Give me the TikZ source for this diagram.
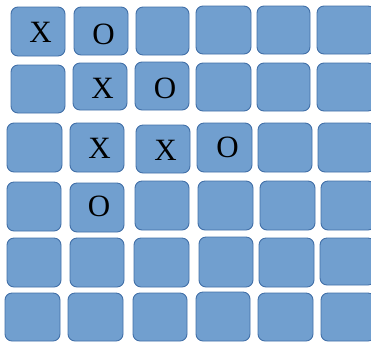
\documentclass[tikz,border=0pt]{standalone}
\usepackage{fontspec}
\setmainfont{Liberation Serif}
\definecolor{cellfill}{RGB}{113,159,207}
\definecolor{cellline}{RGB}{66,112,168}
\newcommand{\gcell}[5]{%
  \pgfmathsetmacro{\cx}{(#2+#4)/2}%
  \pgfmathsetmacro{\cy}{(#3+#5)/2}%
  \pgfmathsetmacro{\cw}{#4-#2}%
  \pgfmathsetmacro{\ch}{#5-#3}%
  \node[cellbox, minimum width=\cw pt, minimum height=\ch pt] (#1) at (\cx,\cy) {};}
\begin{document}
\begin{tikzpicture}[x=1pt,y=-1pt,
  cellbox/.style={draw=cellline, fill=cellfill, line width=0.9pt, rounded corners=7pt, inner sep=0pt, outer sep=0pt},
  glyph/.style={font=\fontsize{31}{31}\selectfont, inner sep=0pt, text=black}]
\useasboundingbox (0,0) rectangle (371,341);
\begin{scope}
\clip (0,0) rectangle (371,341);
% row 1
\gcell{a1}{11}{7}{65}{56}
\gcell{a2}{74}{7}{128}{55}
\gcell{a3}{136}{7}{189}{55}
\gcell{a4}{196}{6}{251}{54}
\gcell{a5}{257}{6}{310}{54}
\gcell{a6}{317}{6}{375}{54}
% row 2
\gcell{b1}{11}{65}{65}{113}
\gcell{b2}{73}{63}{127}{110}
\gcell{b3}{135}{62}{189}{110}
\gcell{b4}{196}{63}{251}{111}
\gcell{b5}{257}{63}{310}{111}
\gcell{b6}{317}{63}{375}{111}
% row 3
\gcell{c1}{7}{123}{62}{172}
\gcell{c2}{70}{123}{124}{172}
\gcell{c3}{136}{125}{190}{173}
\gcell{c4}{197}{123}{252}{172}
\gcell{c5}{258}{123}{312}{172}
\gcell{c6}{318}{123}{375}{172}
% row 4
\gcell{d1}{7}{182}{61}{231}
\gcell{d2}{70}{183}{124}{232}
\gcell{d3}{135}{181}{189}{230}
\gcell{d4}{198}{181}{253}{230}
\gcell{d5}{260}{181}{315}{230}
\gcell{d6}{321}{181}{375}{230}
% row 5
\gcell{e1}{7}{238}{61}{287}
\gcell{e2}{70}{238}{124}{287}
\gcell{e3}{134}{238}{189}{287}
\gcell{e4}{199}{237}{253}{287}
\gcell{e5}{259}{238}{314}{287}
\gcell{e6}{320}{238}{375}{285}
% row 6
\gcell{f1}{5}{293}{60}{341}
\gcell{f2}{68}{293}{123}{341}
\gcell{f3}{133}{293}{187}{341}
\gcell{f4}{196}{292}{250}{341}
\gcell{f5}{258}{293}{313}{341}
\gcell{f6}{321}{293}{375}{341}
\end{scope}
% marks
\node[glyph] (ta1) at (40.5,32.5) {X};
\node[glyph] (ta2) at (103.5,34) {O};
\node[glyph] (tb2) at (102.5,88) {X};
\node[glyph] (tb3) at (165,88) {O};
\node[glyph] (tc2) at (99.5,148) {X};
\node[glyph] (tc3) at (165.5,150.5) {X};
\node[glyph] (tc4) at (227.5,147) {O};
\node[glyph] (td2) at (99,206) {O};
\end{tikzpicture}
\end{document}
